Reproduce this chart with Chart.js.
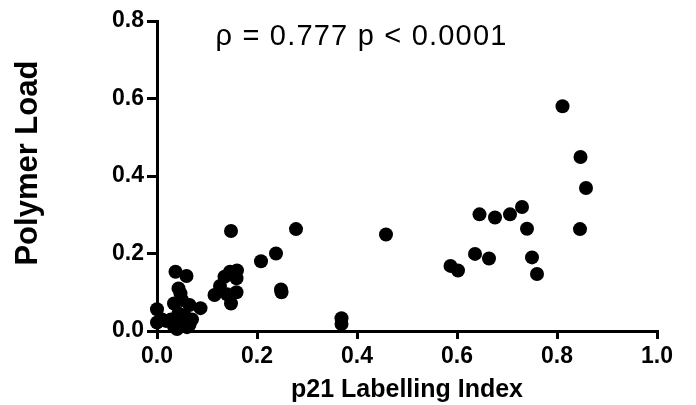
<!DOCTYPE html>
<html>
<head>
<meta charset="utf-8">
<script src="https://cdn.jsdelivr.net/npm/chart.js@4"></script>
<style>
  html, body { margin: 0; padding: 0; background: #fff; }
  #wrap { width: 696px; height: 405px; }
</style>
</head>
<body>
<div id="wrap"><canvas id="scatterGraph" width="696" height="405"></canvas></div>
<script>
// p21 labelling index (x) vs polymer load (y)
const p21Index = [
    0.811, 0.847, 0.858, 0.846, 0.730, 0.706, 0.676, 0.645, 0.740, 0.636,
    0.664, 0.750, 0.760, 0.587, 0.602, 0.458, 0.369, 0.369, 0.278, 0.238,
    0.208, 0.248, 0.249, 0.148, 0.115, 0.126, 0.135, 0.146, 0.160, 0.159,
    0.159, 0.148, 0.140, 0.000, 0.000, 0.034, 0.037, 0.059, 0.043, 0.047,
    0.087, 0.065, 0.034, 0.040, 0.065, 0.056, 0.018, 0.043, 0.055, 0.028,
    0.050, 0.070, 0.060, 0.010, 0.045
];
const polymerLoad = [
    0.580, 0.449, 0.369, 0.263, 0.320, 0.301, 0.293, 0.301, 0.264, 0.199,
    0.187, 0.190, 0.147, 0.168, 0.156, 0.249, 0.033, 0.018, 0.263, 0.200,
    0.180, 0.107, 0.100, 0.258, 0.093, 0.116, 0.140, 0.153, 0.156, 0.136,
    0.100, 0.071, 0.095, 0.056, 0.022, 0.071, 0.153, 0.142, 0.110, 0.097,
    0.059, 0.067, 0.012, 0.005, 0.016, 0.026, 0.026, 0.045, 0.040, 0.030,
    0.080, 0.030, 0.010, 0.030, 0.020
];
const xTitle = "p21 Labelling Index";
const yTitle = "Polymer Load";
const statsText = "\u03c1 = 0.777 p < 0.0001";

const font = "'Liberation Sans', Arial, sans-serif";

// draws the correlation text inside the plot area
const statsLabel = {
    id: "statsLabel",
    afterDraw(chart) {
        const ctx = chart.ctx;
        const x = chart.scales.x.getPixelForValue(0.117);
        const y = chart.scales.y.getPixelForValue(0.737);
        ctx.save();
        ctx.font = "29px " + font;
        ctx.letterSpacing = "1.2px";
        ctx.fillStyle = "#000";
        ctx.textBaseline = "alphabetic";
        ctx.fillText(statsText, x, y);
        ctx.restore();
    }
};

const points = p21Index.map((v, i) => ({ x: v, y: polymerLoad[i] }));

const axisGrid = {
    display: true,
    drawOnChartArea: false,
    drawTicks: true,
    color: "#000",
    lineWidth: 3,
};

new Chart("scatterGraph", {
    type: "scatter",
    data: {
        datasets: [{
            data: points,
            backgroundColor: "#000",
            borderWidth: 0,
            pointRadius: 7,
            pointHoverRadius: 7,
            clip: false,
        }]
    },
    options: {
        responsive: false,
        animation: false,
        layout: { padding: { left: 0, right: 39, top: 21, bottom: 0 } },
        plugins: {
            legend: { display: false },
            tooltip: { enabled: false },
        },
        scales: {
            x: {
                type: "linear",
                min: 0,
                max: 1,
                grid: { ...axisGrid, tickLength: 8 },
                border: { display: true, color: "#000", width: 3 },
                ticks: {
                    stepSize: 0.2,
                    color: "#000",
                    padding: 4,
                    font: { family: font, size: 23, weight: "bold" },
                    callback: (v) => v.toFixed(1),
                },
                title: {
                    display: true,
                    text: xTitle,
                    color: "#000",
                    padding: { top: 0, bottom: 0 },
                    font: { family: font, size: 25, weight: "bold" },
                },
                afterFit: (scale) => { scale.height = 74; },
            },
            y: {
                type: "linear",
                min: 0,
                max: 0.8,
                grid: { ...axisGrid, tickLength: 10 },
                border: { display: true, color: "#000", width: 3 },
                ticks: {
                    stepSize: 0.2,
                    color: "#000",
                    padding: 3,
                    font: { family: font, size: 23, weight: "bold" },
                    callback: (v) => v.toFixed(1),
                },
                title: {
                    display: true,
                    // leading spaces nudge the rotated title up a little, as in the figure
                    text: "   " + yTitle,
                    color: "#000",
                    padding: { top: 10, bottom: 0 },
                    font: { family: font, size: 31, weight: "bold" },
                },
                afterFit: (scale) => { scale.width = 157; },
            },
        },
    },
    plugins: [statsLabel],
});
</script>
</body>
</html>
